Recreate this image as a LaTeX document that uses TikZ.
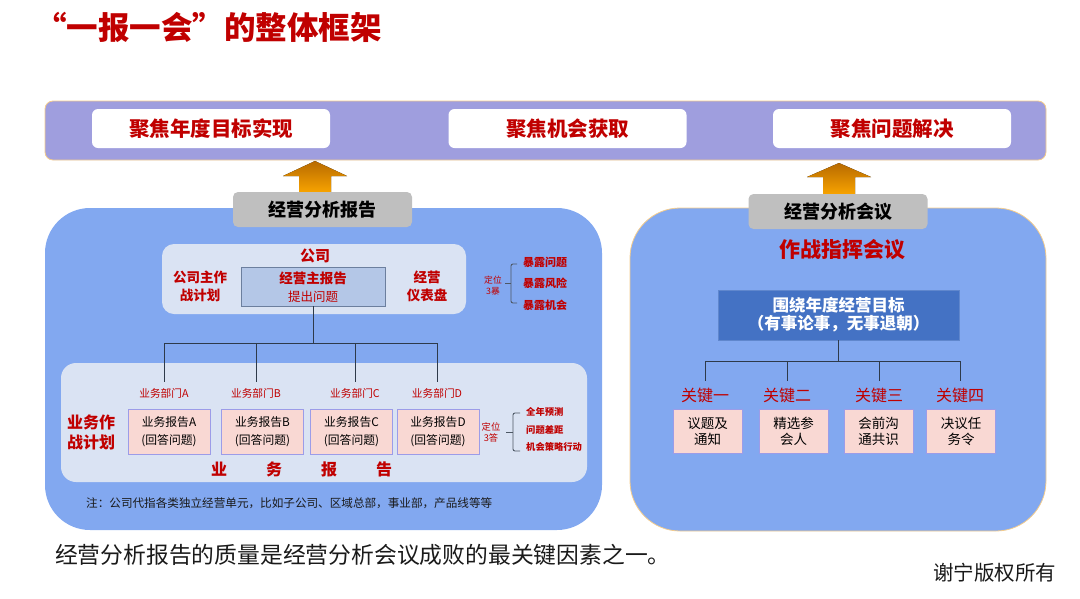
\documentclass[tikz,border=0pt]{standalone}
\usepackage{fontspec}
\setmainfont{Noto Sans CJK SC}
\usepackage{tikz}
\usetikzlibrary{positioning}
\newcommand{\fsz}[2]{\fontsize{#1}{#2}\selectfont}

\definecolor{keyred}{HTML}{C00000}
\definecolor{barlav}{HTML}{9F9EDE}
\definecolor{barline}{HTML}{F4CC8C}
\definecolor{panelblue}{HTML}{82A8F0}
\definecolor{paleblue}{HTML}{DAE3F3}
\definecolor{mainblue}{HTML}{B4C7E7}
\definecolor{mainedge}{HTML}{6C7F9E}
\definecolor{goalblue}{HTML}{4472C4}
\definecolor{tagray}{HTML}{BFBFBF}
\definecolor{pinkfill}{HTML}{F9D8D3}
\definecolor{pinkedge}{HTML}{9C9CE8}
\definecolor{linegray}{HTML}{2E3A4A}
\definecolor{arrowtop}{HTML}{B86A00}
\definecolor{arrowbot}{HTML}{F7A300}
\definecolor{inkblack}{HTML}{1A1A1A}

\tikzset{
  redbold/.style={text=keyred, font=\bfseries},
  focusbox/.style={fill=white, rounded corners=6pt, minimum width=238pt, minimum height=39pt, inner sep=0pt, text=keyred, font=\bfseries\fsz{20.5}{22}},
  reporttag/.style={fill=tagray, rounded corners=5pt, minimum width=179pt, minimum height=35pt, inner sep=0pt, font=\bfseries\fsz{18}{20}},
  deptbox/.style={fill=pinkfill, draw=pinkedge, line width=0.8pt, minimum width=82pt, minimum height=45pt, inner sep=0pt, align=center, font=\fsz{11.8}{18}},
  keybox/.style={deptbox, minimum width=69pt, minimum height=44pt, font=\fsz{13.5}{16}},
  treeline/.style={draw=linegray, line width=0.9pt},
  bracket/.style={draw=linegray!85, line width=0.9pt, rounded corners=2pt},
  upshade/.style={top color=arrowtop, bottom color=arrowbot, draw=none},
}

\begin{document}
\begin{tikzpicture}[x=1pt,y=-1pt]
\useasboundingbox (0,0) rectangle (1080,598);
% title
\node[redbold, font=\bfseries\fsz{31.5}{32}, anchor=west, inner sep=0] (title) at (35,27) {“一报一会”的整体框架};

% top bar
\draw[fill=barlav, draw=barline, line width=0.8pt, rounded corners=8pt] (45,101) rectangle (1046,160);
\node[focusbox] (goalA) at (211,128.5) {聚焦年度目标实现};
\node[focusbox] (goalB) at (567.5,128.5) {聚焦机会获取};
\node[focusbox] (goalC) at (892,128.5) {聚焦问题解决};

% up arrows
\fill[upshade] (299,192) -- (299,176) -- (283,176) -- (315,161) -- (347,176) -- (331,176) -- (331,192) -- cycle;
\fill[upshade] (823,194) -- (823,177) -- (807,177) -- (839,163) -- (871,177) -- (855,177) -- (855,194) -- cycle;

% panels
\fill[panelblue, rounded corners=45pt] (45,208) rectangle (602,530);
\draw[fill=panelblue, draw=barline, line width=0.8pt, rounded corners=50pt] (630,208) rectangle (1046,531);
\node[reporttag] (tagL) at (322.5,209.5) {经营分析报告};
\node[reporttag] (tagR) at (838,211.5) {经营分析会议};

% company level
\fill[paleblue, rounded corners=12pt] (162,244) rectangle (466,314);
\node[redbold, font=\bfseries\fsz{15}{15}] (corp) at (315,256) {公司};
\node[redbold, font=\bfseries\fsz{13.5}{18}, align=center] (corpplan) at (200,286) {公司主作\\战计划};
\node[fill=mainblue, draw=mainedge, line width=0.8pt, minimum width=144pt, minimum height=39pt, inner sep=0] (mainrep) at (313,286.5) {};
\node[redbold, font=\bfseries\fsz{13.5}{14}] (maintitle) at (313,278) {经营主报告};
\node[text=keyred, font=\fsz{12.5}{13}] (mainsub) at (313,297) {提出问题};
\node[redbold, font=\bfseries\fsz{13.5}{18}, align=center] (dash) at (427,286) {经营\\仪表盘};
\node[text=keyred, font=\fsz{8.8}{11}, align=center] (loc3) at (493,285.5) {定位\\3暴};
\draw[bracket] (517,264) -- (511,264) -- (511,303) -- (517,303);
\draw[bracket] (511,283.5) -- (505,283.5);
\node[redbold, font=\bfseries\fsz{11}{11}, anchor=west, inner sep=0] (exp1) at (523,262) {暴露问题};
\node[redbold, font=\bfseries\fsz{11}{11}, anchor=west, inner sep=0] (exp2) at (523,283.5) {暴露风险};
\node[redbold, font=\bfseries\fsz{11}{11}, anchor=west, inner sep=0] (exp3) at (523,305) {暴露机会};

% business level
\fill[paleblue, rounded corners=15pt] (61,363) rectangle (587,482);
\node[text=keyred, font=\fsz{10.7}{11}] (deptA) at (164,393) {业务部门A};
\node[text=keyred, font=\fsz{10.7}{11}] (deptB) at (256,393) {业务部门B};
\node[text=keyred, font=\fsz{10.7}{11}] (deptC) at (355,393) {业务部门C};
\node[text=keyred, font=\fsz{10.7}{11}] (deptD) at (437,393) {业务部门D};
\node[deptbox] (repA) at (169,431.5) {业务报告A\\(回答问题)};
\node[deptbox] (repB) at (262.5,431.5) {业务报告B\\(回答问题)};
\node[deptbox] (repC) at (351.5,431.5) {业务报告C\\(回答问题)};
\node[deptbox] (repD) at (438,431.5) {业务报告D\\(回答问题)};
\node[redbold, font=\bfseries\fsz{16}{20}, align=center] (bizplan) at (91,432) {业务作\\战计划};
\node[text=keyred, font=\fsz{9.3}{11}, align=center] (loc3b) at (491,432.5) {定位\\3答};
\draw[bracket] (520,413) -- (513,413) -- (513,451) -- (520,451);
\draw[bracket] (513,432) -- (506,432);
\node[redbold, font=\bfseries\fsz{9.3}{10}, anchor=west, inner sep=0] (ans1) at (526,412) {全年预测};
\node[redbold, font=\bfseries\fsz{9.3}{10}, anchor=west, inner sep=0] (ans2) at (526,430) {问题差距};
\node[redbold, font=\bfseries\fsz{9.3}{10}, anchor=west, inner sep=0] (ans3) at (526,447) {机会策略行动};
\foreach \c [count=\i] in {业,务,报,告}
  \node[redbold, font=\bfseries\fsz{16}{16}] (bizrep\i) at ({164+55*\i},469) {\c};
\node[text=inkblack, font=\fsz{11.6}{12}, anchor=west, inner sep=0] (note) at (86,503) {注：公司代指各类独立经营单元，比如子公司、区域总部，事业部，产品线等等};

% tree left
\draw[treeline] (mainrep.south) -- ++(0,37) coordinate (hub);
\foreach \d in {A,B,C,D}
  \draw[treeline] (hub) -| ([yshift=3pt]dept\d.north);

% right panel
\node[redbold, font=\bfseries\fsz{21}{21}] (command) at (842,250) {作战指挥会议};
\node[fill=goalblue, draw=goalblue!85!white, line width=0.8pt, minimum width=241pt, minimum height=50pt, inner sep=0, align=center, text=white, font=\bfseries\fsz{16.5}{18}] (yeargoal) at (838.5,315) {围绕年度经营目标\\（有事论事，无事退朝）};
\node[text=keyred, font=\fsz{16}{16}] (key1) at (705,395) {关键一};
\node[text=keyred, font=\fsz{16}{16}] (key2) at (787,395) {关键二};
\node[text=keyred, font=\fsz{16}{16}] (key3) at (879,395) {关键三};
\node[text=keyred, font=\fsz{16}{16}] (key4) at (960,395) {关键四};
\node[keybox] (step1) at (707.5,431) {议题及\\通知};
\node[keybox] (step2) at (793.5,431) {精选参\\会人};
\node[keybox] (step3) at (878.5,431) {会前沟\\通共识};
\node[keybox] (step4) at (961,431) {决议任\\务令};
\draw[treeline] (yeargoal.south) -- ++(0,21) coordinate (khub);
\foreach \k in {1,...,4}
  \draw[treeline] (khub) -| ([yshift=3pt]key\k.north);

% bottom
\node[text=inkblack, font=\fsz{22.8}{23}, anchor=west, inner sep=0] (summary) at (55,555) {经营分析报告的质量是经营分析会议成败的最关键因素之一。};
\node[text=inkblack, font=\fsz{20.5}{21}, anchor=west, inner sep=0] (rights) at (933,573) {谢宁版权所有};
\end{tikzpicture}
\end{document}
